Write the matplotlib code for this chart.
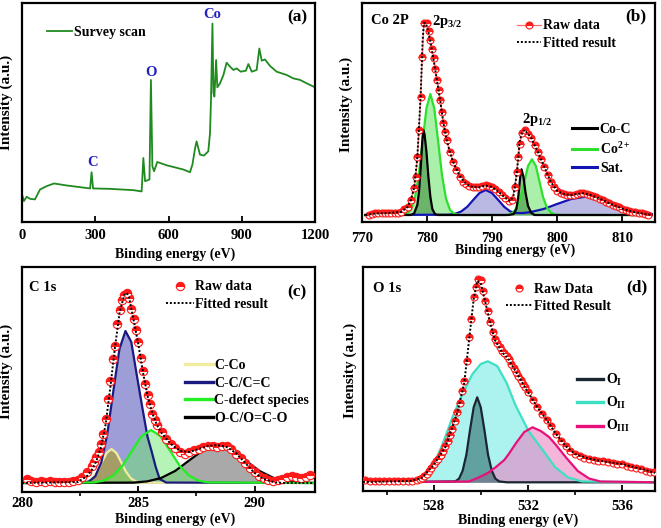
import matplotlib
matplotlib.use("Agg")
from matplotlib import pyplot as plt

plt.rcParams['font.family'] = ['Liberation Serif', 'DejaVu Serif']
plt.rcParams['font.weight'] = 'bold'
plt.rcParams['mathtext.fontset'] = 'custom'
plt.rcParams['mathtext.rm'] = 'Liberation Serif:bold'
plt.rcParams['mathtext.it'] = 'Liberation Serif:bold'
plt.rcParams['mathtext.bf'] = 'Liberation Serif:bold'

# ---------------- (a) survey ----------------
survey_e = [0, 8, 19, 33, 53, 74, 101, 131, 183, 238, 279, 285, 291, 360, 456, 490, 497, 504, 522, 528,
            534, 541, 554, 592, 661, 688, 698, 709, 715, 729, 745, 763, 770, 774, 780, 784, 788, 795, 800, 811,
            825, 838, 852, 866, 879, 896, 917, 927, 941, 961, 972, 982, 995, 1016, 1043, 1084, 1111, 1139, 1166, 1200]
survey_i = [27.7, 21, 25.3, 23.3, 22.7, 32.7, 36, 38.7, 36.7, 35, 33.7, 50, 33.7, 33.3, 32, 30.7, 64.3, 41, 42.7, 142.7,
            56, 51, 60.3, 57, 52.7, 50, 57.7, 74.3, 81, 67.7, 66.7, 71, 89.3, 122.7, 199.3, 129.3, 126, 162.7, 135.3, 139.3,
            147.7, 160, 156, 152.7, 154.3, 151, 152, 158.7, 151, 152.7, 174.3, 162, 163.3, 156.7, 151, 147.7, 144.3, 142.7, 139.3, 135.3]
survey_peaks = ["C", "O", "Co"]
survey_peak_e = [287, 528, 778]
survey_peak_i = [60, 150, 208]

# ---------------- (b) Co 2p ----------------
raw_b_e = [771, 771.5, 772, 772.5, 773, 773.5, 774, 774.5, 775, 775.5,
           776, 776.5, 777, 777.5, 778, 778.25, 778.5, 778.75, 779, 779.25,
           779.5, 780, 780.25, 780.5, 780.75, 781, 781.25, 781.5, 781.75, 782,
           782.25, 782.5, 782.75, 783, 783.5, 784, 784.5, 785, 785.5, 786,
           786.5, 787, 787.5, 788, 788.5, 789, 789.5, 790, 790.5, 791,
           791.5, 792, 792.5, 793, 793.5, 793.75, 794, 794.25, 794.5, 795,
           795.5, 796, 796.5, 797, 797.5, 798, 798.5, 799, 799.5, 800,
           800.5, 801, 801.5, 802, 802.5, 803, 803.5, 804, 804.5, 805,
           805.5, 806, 806.5, 807, 807.5, 808, 808.5, 809, 809.5, 810,
           810.5, 811, 811.5, 812, 812.5, 813, 813.5, 814]
raw_b_i = [7, 7.7, 8.7, 8.7, 9.3, 8.7, 8.7, 8.7, 8.7, 9.3,
           10.3, 12.7, 15.3, 22, 33.7, 45, 65, 92, 125, 165,
           198.7, 198.7, 191, 182, 173, 163.7, 153, 142, 132, 122,
           110, 98.7, 90, 82, 70.3, 60.3, 52, 45.3, 40.3, 38,
           36, 35.3, 34.7, 35.3, 36, 36.7, 36, 34.7, 32.7, 30.3,
           27, 23.7, 21.3, 22, 35.3, 50, 65.3, 78, 88.7, 92,
           88, 83.7, 77, 70.3, 62.7, 55.3, 47, 40.3, 35.3, 31.3,
           29.3, 28, 27.3, 27, 27.3, 28, 28.7, 28.7, 28, 27.3,
           26, 24.7, 23.3, 22, 20.3, 18.7, 17.3, 16, 14.7, 13.3,
           12, 11.3, 10.3, 9.7, 9.3, 8.7, 8, 7]
fit_b_e = [770.5, 772, 774, 776, 777, 777.5, 778, 778.5, 779, 779.3, 779.5, 779.8, 780.2, 780.5, 781,
           781.5, 782, 782.5, 783, 783.5, 784, 785, 786, 787, 788, 789, 790, 791, 792, 792.8,
           793.3, 793.8, 794.2, 794.6, 795, 795.5, 796, 797, 798, 799, 800, 801, 802, 803, 804,
           805, 806, 807, 808, 809, 810, 811, 812, 813, 814.5]
fit_b_i = [7, 8.5, 9, 10, 15, 22, 34, 65, 125, 180, 199, 199, 190, 180, 162,
           142, 122, 99, 82, 70, 60, 46, 38, 35, 35, 36.5, 35, 30, 24, 21,
           27, 50, 80, 90, 92, 88, 84, 70, 55, 40, 31, 28, 27, 28, 28.7,
           27.3, 24.7, 22, 18.7, 16, 13.3, 11.3, 9.7, 8.7, 7]
coc_e = [770.5, 777.5, 778.0, 778.5, 778.75, 779.0, 779.25, 779.4, 779.6, 779.9, 780.2, 780.5, 780.8, 781.2,
         781.6, 792.5, 793.3, 793.7, 794.0, 794.3, 794.5, 794.8, 795.1, 795.5, 796.0, 796.5, 814.5]
coc_i = [7, 7, 8.5, 17, 30, 52, 80, 92, 88, 70, 45, 25, 13, 8,
         7, 7, 8, 13, 25, 45, 52.7, 45, 30, 16, 9, 7, 7]
co2_e = [770.5, 776.0, 776.9, 777.5, 778.1, 778.7, 779.3, 779.9, 780.5, 781.1, 781.7, 782.3, 782.9, 783.5, 784.1,
         785.0, 792.0, 792.65, 793.2, 793.8, 794.4, 794.95, 795.5, 796.1, 796.7, 797.25, 797.8, 798.4, 799.0,
         799.55, 800.5, 814.5]
co2_i = [7, 7, 8.3, 12.3, 23.3, 46.3, 80.4, 113.7, 128, 113.7, 80.4, 46.3, 23.3, 12.3, 8.3,
         7, 7, 7.6, 9.5, 14.5, 25.1, 40.8, 56.1, 62.7, 56.1, 40.8, 25.1, 14.5, 9.5,
         7.6, 7, 7]
sat_e = [770.5, 783.3, 784.25, 785.2, 786.15, 787.1, 788.05, 789.0, 789.95, 790.9, 791.85, 792.8,
         793.75, 794.7, 795.8, 797.9, 800.0, 802.2, 804.3, 806.4, 808.5, 810.7, 812.8, 814.5]
sat_i = [7, 7.3, 8.1, 10.4, 15.1, 22.2, 29, 32, 29, 22.2, 15.1, 10.4,
         9, 9, 9.8, 13, 18.1, 23.1, 25.3, 23.1, 18.1, 13, 9.5, 8]
base_b = 7

# ---------------- (c) C 1s ----------------
raw_c_e = [280.2, 280.4, 280.6, 280.8, 281.0, 281.2, 281.4, 281.6, 281.8, 282.0,
           282.2, 282.4, 282.6, 282.8, 283.0, 283.1, 283.2, 283.3, 283.4, 283.5,
           283.6, 283.7, 283.8, 283.9, 284.0, 284.1, 284.2, 284.3, 284.4, 284.5,
           284.6, 284.7, 284.8, 284.9, 285.0, 285.1, 285.2, 285.3, 285.4, 285.5,
           285.6, 285.7, 285.8, 286.0, 286.2, 286.4, 286.6, 286.8, 287.0, 287.2,
           287.4, 287.6, 287.8, 288.0, 288.2, 288.4, 288.6, 288.8, 289.0, 289.2,
           289.4, 289.6, 289.8, 290.0, 290.2, 290.4, 290.6, 290.8, 291.0, 291.2,
           291.4, 291.6, 291.8, 292.0, 292.2, 292.4]
raw_c_i = [13, 11, 10, 11, 10, 11, 10, 10, 10, 10,
           11, 12, 15, 20, 26, 30, 35, 40, 48, 58,
           73, 93, 111, 133, 146, 168, 182, 192, 197, 199,
           194, 183, 173, 162, 150, 134, 121, 108, 97, 88,
           78, 72, 67, 60, 53, 48, 44, 40, 38, 40,
           42, 43, 45, 46, 46, 45, 46, 46, 43, 38,
           34, 29, 24, 20, 16, 14, 12, 11, 12, 13,
           15, 16, 15, 14, 15, 17]
fit_c_e = [280, 282.4, 282.8, 283.0, 283.2, 283.4, 283.6, 283.8, 284.0, 284.2,
           284.4, 284.5, 284.6, 284.8, 285.0, 285.2, 285.4, 285.6, 285.8, 286.0,
           286.4, 286.8, 287.2, 287.6, 288.0, 288.4, 288.8, 289.2, 289.6, 290.0,
           290.4, 290.8, 291.2, 292.6]
fit_c_i = [9, 10, 16, 22, 31, 45, 68, 105, 145, 180,
           197, 199, 195, 172, 148, 120, 96, 79, 67, 59,
           48, 41, 40, 43, 46, 47, 45, 39, 29, 19,
           13, 10, 9, 9]
cco_e = [280.0, 282.59, 282.8, 283.01, 283.22, 283.43, 283.64, 283.85, 284.06, 284.27, 284.48, 284.69, 284.9, 285.11, 292.6]
cco_i = [9, 9.4, 10.5, 13.6, 20, 29.6, 39, 43, 39, 29.6, 20, 13.6, 10.5, 9.4, 9]
cc_e = [280.0, 282.63, 282.89, 283.15, 283.41, 283.67, 283.93, 284.19, 284.45, 284.7, 284.95, 285.2, 285.4,
        285.57, 285.75, 285.92, 286.2, 292.6]
cc_i = [9, 9.1, 10.7, 15.7, 29.5, 58.4, 101.3, 143, 161, 150, 115, 81, 55, 41, 25, 13, 9.5, 9]
cdef_e = [280.0, 283.09, 283.5, 283.91, 284.32, 284.73, 285.14, 285.55, 285.96, 286.37, 286.78, 287.19, 287.6, 288.01, 292.6]
cdef_i = [9, 9.6, 11.3, 16.2, 26.2, 41.2, 55.7, 62, 55.7, 41.2, 26.2, 16.2, 11.3, 9.6, 9]
oc_e = [280.0, 284.77, 285.38, 285.98, 286.59, 287.19, 287.8, 288.4, 289.0, 289.61, 290.21, 290.82, 291.42, 292.03, 292.6]
oc_i = [9, 9.4, 10.6, 14, 21.1, 31.6, 42, 46.3, 42, 31.6, 21.1, 14, 10.6, 9.4, 9]
base_c = 9

# ---------------- (d) O 1s ----------------
raw_d_e = [525.1, 525.3, 525.5, 525.7, 525.9, 526.1, 526.3, 526.5, 526.7, 526.9, 527.1, 527.3,
           527.4, 527.5, 527.6, 527.7, 527.8, 527.9, 528.0, 528.1, 528.2, 528.3, 528.4, 528.5,
           528.6, 528.7, 528.8, 528.9, 529.0, 529.1, 529.2, 529.3, 529.4, 529.5, 529.6, 529.7,
           529.8, 529.9, 530.0, 530.1, 530.2, 530.3, 530.4, 530.5, 530.6, 530.7, 530.8, 530.9,
           531.0, 531.1, 531.2, 531.3, 531.4, 531.5, 531.6, 531.7, 531.8, 531.9, 532.0,
           532.2, 532.4, 532.6, 532.8, 533.0, 533.2, 533.4, 533.6, 533.8, 534.0, 534.2, 534.4,
           534.6, 534.8, 535.0, 535.2, 535.4, 535.6, 535.8, 536.0, 536.2, 536.4, 536.6, 536.8,
           537.0, 537.2, 537.35]
raw_d_i = [11, 10.5, 10.5, 10.3, 10, 10, 9.7, 10, 10.3, 10.5, 10.3, 11,
           12, 13.5, 15.3, 17.5, 20.3, 23.5, 27, 30, 32.5, 36, 40, 45,
           50, 56, 62, 70, 79, 88, 100, 110, 130, 154, 172, 194,
           204, 212, 211, 200, 190, 180, 169, 159, 152, 148, 144, 140,
           138, 135, 132, 127, 123, 119, 115, 111, 107, 104, 99,
           91, 84, 77, 71, 65, 57, 50, 45, 40, 37, 35, 33.5,
           32.5, 31.5, 30.5, 30, 29, 28.5, 27.5, 27, 25.5, 24.3, 23, 22,
           20.5, 19.5, 18.7]
fit_d_e = [525, 527, 527.5, 528, 528.5, 529, 529.3, 529.5, 529.7, 529.85,
           530.0, 530.2, 530.4, 530.6, 530.9, 531.2, 531.6, 532, 532.4, 532.8,
           533.2, 533.6, 534, 534.5, 535, 535.5, 536, 536.5, 537, 537.4]
fit_d_i = [9, 10, 13, 26, 44, 78, 108, 150, 192, 210,
           208, 188, 168, 151, 139, 131, 115, 99, 84, 71,
           57, 45, 37, 33, 30.5, 28.5, 27, 24, 21, 18]
oi_e = [525.0, 528.92, 529.08, 529.23, 529.39, 529.54, 529.7, 529.85, 530.0, 530.16, 530.31, 530.47, 530.62, 530.78, 531.1, 537.4]
oi_i = [8.7, 9.6, 12.4, 20.2, 36.3, 60.3, 83.7, 93.7, 83.7, 60.3, 36.3, 20.2, 12.4, 9.6, 8.7, 8.7]
oii_e = [525.0, 527.3, 527.68, 527.96, 528.38, 528.8, 529.22, 529.65, 530.0, 530.3, 530.7, 531.1, 531.47,
         532.03, 532.6, 533.15, 533.7, 534.3, 537.4]
oii_i = [8.7, 10, 13.7, 23.7, 47, 73.7, 97, 117, 127, 129.7, 125, 108, 86, 60, 42, 24, 13.7, 9.5, 8.7]
oiii_e = [525.0, 529.5, 529.93, 530.3, 530.63, 531.0, 531.19, 531.5, 531.85, 532.2, 532.55, 532.9, 533.16,
          533.64, 534.12, 534.6, 535.08, 537.4]
oiii_i = [8.7, 9.5, 13.7, 18, 23.7, 31, 37, 48, 59, 63.7, 60, 54, 47, 33, 20, 12.5, 9.5, 8.7]
base_d = 8.7

RED = '#ff1a1a'
W, H = 661, 528
TICK_FS, XLAB_FS, YLAB_FS, LEG_FS, TXT_FS = 10.5, 10, 11, 10, 10.5


def px_axes(x0, y0, x1, y1):
    return fig.add_axes([x0 / W, 1 - y1 / H, (x1 - x0) / W, (y1 - y0) / H])


def style(ax, xlim, ylim, ticks, pad, xlab, ylab, minor=None):
    ax.set_xlim(*xlim)
    ax.set_ylim(*ylim)
    ax.set_xticks(ticks)
    if minor:
        ax.set_xticks(minor, minor=True)
        ax.tick_params(axis='x', which='minor', direction='out', length=3, width=1.2)
    ax.set_yticks([])
    ax.tick_params(axis='x', which='major', direction='in', length=4, width=1.3, labelsize=TICK_FS, pad=pad)
    for s in ax.spines.values():
        s.set_linewidth(1.6)
    ax.set_xlabel('Binding energy (eV)', fontsize=XLAB_FS, fontweight='bold')
    ax.set_ylabel('Intensity (a.u.)', fontsize=YLAB_FS, fontweight='bold')
    ax.xaxis.set_label_coords(*xlab)
    ax.yaxis.set_label_coords(*ylab)


def raw(ax, e, i, ms, label, line=False):
    return ax.plot(e, i, ls='-' if line else 'none', color='#ff6a6a', lw=0.9, marker='o', ms=ms,
                   mfc=RED, mfcalt='white', mec=RED, mew=0.8, fillstyle='top', label=label, zorder=5)[0]


def fit(ax, e, i, label):
    return ax.plot(e, i, color='black', ls=(0, (1, 1)), lw=1.4, label=label, zorder=6)[0]


def leg(ax, handles, xy, hl, sp, tp=0.3, fs=LEG_FS):
    return ax.legend(handles=handles, loc='upper left', bbox_to_anchor=xy, frameon=False, borderpad=0,
                     borderaxespad=0, handlelength=hl, labelspacing=sp, handletextpad=tp,
                     prop={'size': fs, 'weight': 'bold'}, numpoints=1)


fig = plt.figure(figsize=(W / 100, H / 100), dpi=100)

# (a)
ax = px_axes(22, 3, 315, 222)
ln, = ax.plot(survey_e, survey_i, color='#1f8a1f', lw=1.3, label='Survey scan')
for t, e, i in zip(survey_peaks, survey_peak_e, survey_peak_i):
    ax.text(e, i, t, color='#2020c0', fontsize=TXT_FS, fontweight='bold', ha='center', va='center')
ax.text(0.939, 0.936, '(a)', transform=ax.transAxes, fontsize=12.5, fontweight='bold', ha='center', va='center')
style(ax, (0, 1200), (0, 220), [0, 300, 600, 900, 1200], 5, (0.522, -0.115), (-0.031, 0.548))
leg(ax, [ln], (0.085, 0.895), 1.8, 0.3, 0.15)

# (b)
ax = px_axes(362, 3, 655, 222)
ax.fill_between(sat_e, base_b, sat_i, color='#a8a8dc', alpha=0.8, lw=0)
ax.fill_between(co2_e, base_b, co2_i, color='#8eea8e', alpha=0.75, lw=0)
ax.fill_between(coc_e, base_b, coc_i, color='#1f6f1f', alpha=0.45, lw=0)
ax.plot(sat_e, sat_i, color='#1414b4', lw=1.6)
ax.plot(co2_e, co2_i, color='#2ee02e', lw=1.6)
ax.plot(coc_e, coc_i, color='black', lw=1.6)
h_raw = raw(ax, raw_b_e, raw_b_i, 5, 'Raw data', line=True)
h_fit = fit(ax, fit_b_e, fit_b_i, 'Fitted result')
ax.text(0.031, 0.922, 'Co 2P', transform=ax.transAxes, fontsize=TXT_FS, fontweight='bold', va='center')
ax.text(780.8, 200, '2p$_{3/2}$', fontsize=TXT_FS, fontweight='bold', va='center')
ax.text(794.6, 103, '2p$_{1/2}$', fontsize=TXT_FS, fontweight='bold', va='center')
ax.text(0.935, 0.94, '(b)', transform=ax.transAxes, fontsize=12.5, fontweight='bold', ha='center', va='center')
style(ax, (770, 815), (0, 219), [770, 780, 790, 800, 810], 7, (0.521, -0.1), (-0.031, 0.539))
l1 = leg(ax, [h_raw, h_fit], (0.529, 0.925), 1.7, 0.3, 0.2)
ax.add_artist(l1)
comp_b = [plt.Line2D([], [], color=c, lw=2.2, label=t)
          for c, t in (('black', 'Co-C'), ('#2ee02e', 'Co$^{2+}$'), ('#1414b4', 'Sat.'))]
leg(ax, comp_b, (0.717, 0.452), 1.8, 0.35, 0.2)

# (c)
ax = px_axes(22, 267, 315, 492)
ax.fill_between(oc_e, base_c, oc_i, color='#8c8c8c', alpha=0.75, lw=0)
ax.fill_between(cc_e, base_c, cc_i, color='#7474c8', alpha=0.7, lw=0)
ax.fill_between(cco_e, base_c, cco_i, color='#a89c40', alpha=0.75, lw=0)
ax.fill_between(cdef_e, base_c, cdef_i, color='#6ee86e', alpha=0.5, lw=0)
h1, = ax.plot(cco_e, cco_i, color='#f2eca0', lw=1.6, label='C-Co')
h2, = ax.plot(cc_e, cc_i, color='#1a1a80', lw=1.6, label='C-C/C=C')
h4, = ax.plot(oc_e, oc_i, color='black', lw=1.6, label='O-C/O=C-O')
h3, = ax.plot(cdef_e, cdef_i, color='#22ee22', lw=1.6, label='C-defect species')
h_raw = raw(ax, raw_c_e, raw_c_i, 6, 'Raw data')
h_fit = fit(ax, fit_c_e, fit_c_i, 'Fitted result')
ax.text(0.024, 0.907, 'C 1s', transform=ax.transAxes, fontsize=TXT_FS, fontweight='bold', va='center')
ax.text(0.939, 0.889, '(c)', transform=ax.transAxes, fontsize=12.5, fontweight='bold', ha='center', va='center')
style(ax, (280, 292.6), (0, 225), [280, 285, 290], 3.6, (0.521, -0.09), (-0.031, 0.538), minor=[282.5, 287.5])
l1 = leg(ax, [h_raw, h_fit], (0.491, 0.94), 2.0, 0.3, 0.1)
ax.add_artist(l1)
hc = [plt.Line2D([], [], color=h.get_color(), lw=2.4, label=h.get_label()) for h in (h1, h2, h3, h4)]
leg(ax, hc, (0.556, 0.59), 2.0, 0.32, 0.1)

# (d)
ax = px_axes(363, 267, 655, 491)
ax.fill_between(oii_e, base_d, oii_i, color='#9ef2ee', alpha=0.85, lw=0)
ax.fill_between(oiii_e, base_d, oiii_i, color='#ec78bc', alpha=0.55, lw=0)
ax.fill_between(oi_e, base_d, oi_i, color='#245e5e', alpha=0.55, lw=0)
g1, = ax.plot(oi_e, oi_i, color='#1a2630', lw=1.6, label='O$_{\\rm I}$')
g2, = ax.plot(oii_e, oii_i, color='#3ee0c4', lw=1.6, label='O$_{\\rm II}$')
g3, = ax.plot(oiii_e, oiii_i, color='#e8107a', lw=1.6, label='O$_{\\rm III}$')
h_raw = raw(ax, raw_d_e, raw_d_i, 5, 'Raw Data')
h_fit = fit(ax, fit_d_e, fit_d_i, 'Fitted Result')
ax.text(0.034, 0.906, 'O 1s', transform=ax.transAxes, fontsize=TXT_FS, fontweight='bold', va='center')
ax.text(0.938, 0.911, '(d)', transform=ax.transAxes, fontsize=12.5, fontweight='bold', ha='center', va='center')
style(ax, (525, 537.4), (0, 224), [528, 532, 536], 6.5, (0.53, -0.1), (-0.021, 0.536), minor=[526, 530, 534])
l1 = leg(ax, [h_raw, h_fit], (0.49, 0.93), 1.9, 0.3, 0.1)
ax.add_artist(l1)
hd = [plt.Line2D([], [], color=h.get_color(), lw=2.4, label=h.get_label()) for h in (g1, g2, g3)]
leg(ax, hd, (0.733, 0.53), 1.9, 0.5, 0.2)

fig.savefig('out.png', dpi=100)
